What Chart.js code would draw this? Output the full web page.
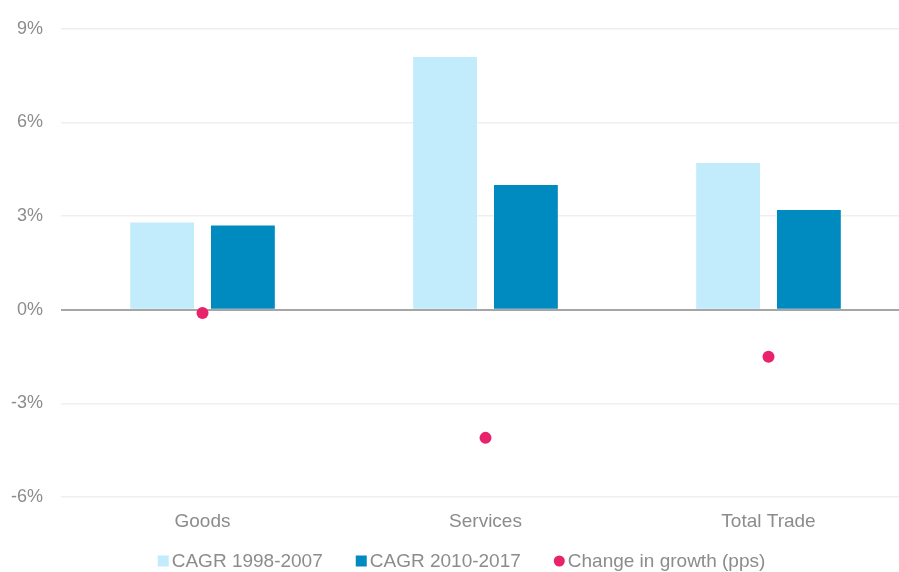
<!DOCTYPE html>
<html><head><meta charset="utf-8">
<script src="https://cdn.jsdelivr.net/npm/chart.js@4/dist/chart.umd.min.js"></script>
<style>html,body{margin:0;padding:0;background:#fff;overflow:hidden}#wrap{width:916px;height:572px;position:relative}</style>
</head><body><div id="wrap"><canvas id="c"></canvas></div>
<script>
const categories = ["Goods", "Services", "Total Trade"];
const cagr9807 = [2.8, 8.1, 4.7];
const cagr1017 = [2.7, 4.0, 3.2];
const changeGrowth = [-0.1, -4.1, -1.5];
const yTicks = [-6, -3, 0, 3, 6, 9];

Chart.defaults.font.family = "'Liberation Sans', Arial, sans-serif";
Chart.defaults.color = '#8c8c8c';

const legendPlugin = {
  id:'customLegend',
  afterDraw(chart){
    const ctx = chart.ctx;
    const font = "19px 'Liberation Sans', Arial, sans-serif";
    ctx.save();
    ctx.font = font;
    ctx.textBaseline = 'middle';
    const y = 561, mark = 11, gapText = 3, gapItem = 33;
    const items = chart.data.datasets.map(d=>({text:d.label, color:d.backgroundColor, circle:d.type==='line'}));
    let total = 0;
    items.forEach((it,i)=>{ it.w = ctx.measureText(it.text).width; total += mark + gapText + it.w + (i<items.length-1?gapItem:0); });
    let x = 461.5 - total/2;
    items.forEach(it=>{
      ctx.fillStyle = it.color;
      if (it.circle){ ctx.beginPath(); ctx.arc(x+mark/2, y, mark/2, 0, Math.PI*2); ctx.fill(); }
      else ctx.fillRect(x, y-mark/2, mark, mark);
      x += mark + gapText;
      ctx.fillStyle = '#8c8c8c';
      ctx.fillText(it.text, x, y+1);
      x += it.w + gapItem;
    });
    ctx.restore();
  }
};

new Chart(document.getElementById('c'), {
  data: {
    labels: categories,
    datasets: [
      {type:'bar', label:'CAGR 1998-2007', data:cagr9807, backgroundColor:'#c2ebfc', categoryPercentage:0.571, barPercentage:0.79},
      {type:'bar', label:'CAGR 2010-2017', data:cagr1017, backgroundColor:'#008bc0', categoryPercentage:0.571, barPercentage:0.79},
      {type:'line', label:'Change in growth (pps)', data:changeGrowth, showLine:false, pointStyle:'circle', pointRadius:6, pointHoverRadius:6, backgroundColor:'#e8236b', borderColor:'#e8236b', borderWidth:0}
    ]
  },
  plugins:[legendPlugin],
  options: {
    responsive:true, maintainAspectRatio:false, animation:false,
    layout:{padding:{top:19, left:-7, right:0, bottom:26}},
    plugins:{ tooltip:{enabled:false}, legend:{display:false} },
    scales:{
      x:{grid:{display:false, drawTicks:false}, border:{display:false}, ticks:{font:{size:19}, color:'#8c8c8c', padding:13}},
      y:{min:-6, max:9, afterBuildTicks(s){ s.ticks = yTicks.map(v=>({value:v})); },
         ticks:{font:{size:18}, color:'#8c8c8c', padding:18, callback:v=>v+'%'},
         border:{display:false},
         grid:{drawTicks:false, color:ctx=> ctx.tick && ctx.tick.value===0 ? '#a6a6a6' : '#efefef', lineWidth:ctx=> ctx.tick && ctx.tick.value===0 ? 2 : 1.5}}
    }
  }
});
</script></body></html>
